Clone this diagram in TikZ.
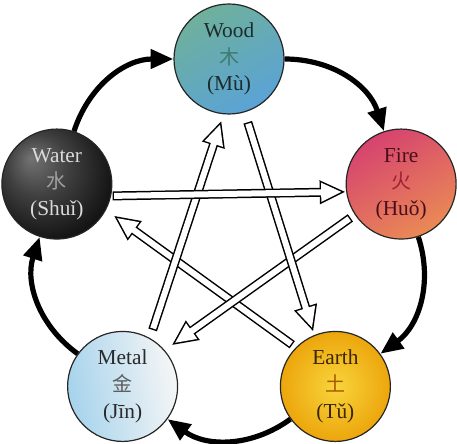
\documentclass[tikz,border=0pt]{standalone}
\usepackage{fontspec}
\setmainfont{Liberation Serif}
\newfontfamily\cjk{Noto Sans CJK SC}
\usetikzlibrary{arrows.meta,calc}
\definecolor{woodA}{HTML}{6FB09C}
\definecolor{woodB}{HTML}{5AA3D6}
\definecolor{fireA}{HTML}{D6436F}
\definecolor{fireB}{HTML}{EA8A55}
\definecolor{metalA}{HTML}{A6D3EC}
\definecolor{metalB}{HTML}{F6F6F6}
\definecolor{earthA}{HTML}{F9D43C}
\definecolor{earthB}{HTML}{ECA60C}
\definecolor{woodT}{HTML}{1C2C2A}
\definecolor{woodC}{HTML}{3F7A72}
\definecolor{waterT}{HTML}{DADADA}
\definecolor{waterC}{HTML}{A0A0A0}
\definecolor{fireT}{HTML}{4A0E1A}
\definecolor{fireC}{HTML}{9E2236}
\definecolor{metalT}{HTML}{2A2A2A}
\definecolor{metalC}{HTML}{5E5E5E}
\definecolor{earthT}{HTML}{3A2600}
\definecolor{earthC}{HTML}{A85A00}
\pgfdeclareradialshading{waterball}{\pgfqpoint{-12bp}{12bp}}{color(0bp)=(black!55); color(14bp)=(black!75); color(30bp)=(black!92); color(50bp)=(black)}
\newcommand{\cn}[1]{{\cjk\fontsize{15}{20}\selectfont #1}}
\begin{document}
\begin{tikzpicture}[x=0.75pt,y=0.75pt,
  elem/.style={circle, draw=black!85, line width=0.9pt, minimum size=82.5pt,
    inner sep=0pt, align=center, font=\fontsize{16}{20}\selectfont},
  cycarrow/.style={line width=3.9pt, black, -{Triangle[length=17pt,width=14pt]}},
  starout/.style={line width=6.75pt, black, -{Triangle[length=19.5pt,width=16.5pt]}},
  starin/.style={line width=4.5pt, white, -{Triangle[length=15.6pt,width=13.2pt]},
    shorten >=2.8pt, shorten <=1.1pt}]
\useasboundingbox (0,0) rectangle (457,443);
\coordinate (O) at (229,203);
\node[elem, shading=axis, top color=woodA, bottom color=woodB, shading angle=30, text=woodT]
  (wood) at ($(O)+(90:181)$) {Wood\\\textcolor{woodC}{\cn{木}}\\(Mù)};
\node[elem, shading=axis, top color=fireA, bottom color=fireB, shading angle=30, text=fireT]
  (fire) at ($(O)+(18:181)$) {Fire\\\textcolor{fireC}{\cn{火}}\\(Huǒ)};
\node[elem, shading=radial, inner color=earthA, outer color=earthB, text=earthT]
  (earth) at ($(O)+(-54:181)$) {Earth\\\textcolor{earthC}{\cn{土}}\\(Tǔ)};
\node[elem, shading=axis, left color=metalA, right color=metalB, shading angle=100, text=metalT]
  (metal) at ($(O)+(-126:181)$) {Metal\\\textcolor{metalC}{\cn{金}}\\(Jīn)};
\node[elem, shading=waterball, text=waterT]
  (water) at ($(O)+(162:181)$) {Water\\\textcolor{waterC}{\cn{水}}\\(Shuǐ)};
% generating cycle
\draw[cycarrow] (water) to[bend left=36] (wood);
\draw[cycarrow] (wood) to[bend left=36] (fire);
\draw[cycarrow] (fire) to[bend left=36] (earth);
\draw[cycarrow] (earth) to[bend left=36] (metal);
\draw[cycarrow] (metal) to[bend left=36] (water);
% controlling star
\coordinate (ew1) at ($(earth)+(136:60)$);
\coordinate (ew2) at ($(water)+(-29:65)$);
\coordinate (fm1) at ($(fire)+(213.7:61)$);
\coordinate (fm2) at ($(metal)+(40:64)$);
\coordinate (we1) at ($(wood)+(-73.5:66)$);
\coordinate (we2) at ($(earth)+(112:59)$);
\coordinate (mw1) at ($(metal)+(62:64)$);
\coordinate (mw2) at ($(wood)+(-97:62)$);
\coordinate (wf1) at ($(water)+(-12:57)$);
\coordinate (wf2) at ($(fire)+(188:56)$);
\draw[starout] (ew1) -- (ew2); \draw[starin] (ew1) -- (ew2);
\draw[starout] (fm1) -- (fm2); \draw[starin] (fm1) -- (fm2);
\draw[starout] (we1) -- (we2); \draw[starin] (we1) -- (we2);
\draw[starout] (mw1) -- (mw2); \draw[starin] (mw1) -- (mw2);
\draw[starout] (wf1) -- (wf2); \draw[starin] (wf1) -- (wf2);
\end{tikzpicture}
\end{document}
